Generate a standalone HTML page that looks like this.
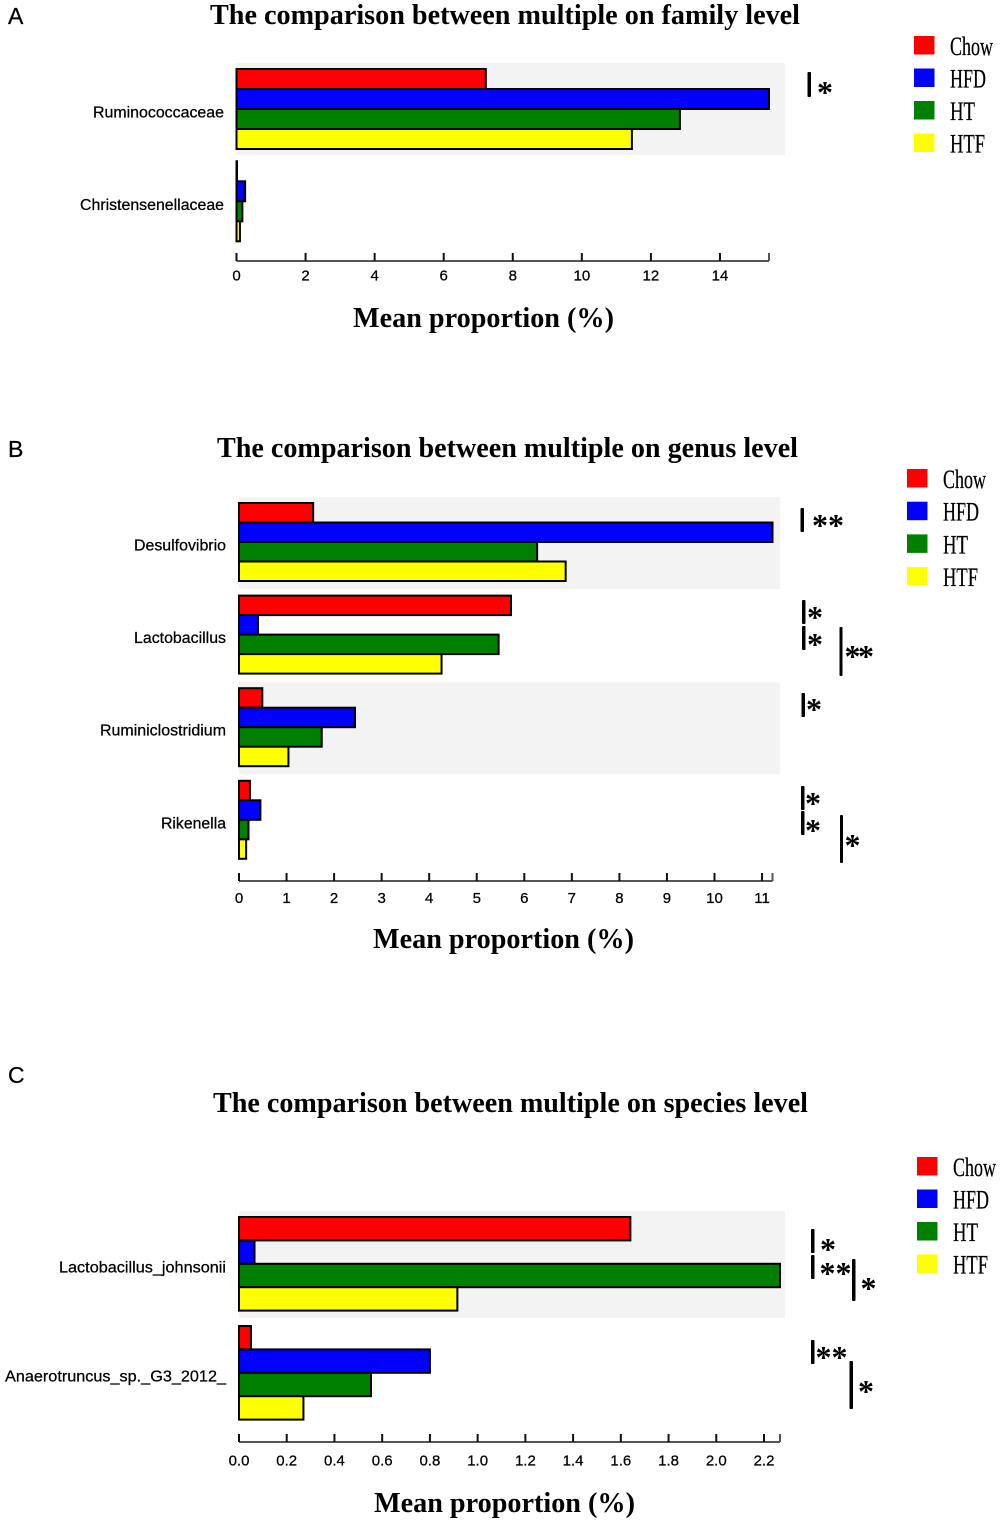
<!DOCTYPE html>
<html lang="en">
<head>
<meta charset="utf-8">
<title>Comparison between multiple groups</title>
<style>
html,body{margin:0;padding:0;background:#fff;}
svg{display:block;}
text{fill:#000;}
.serif{font-family:"Liberation Serif",serif;}
.sans{font-family:"Liberation Sans",sans-serif;}
.heavy{stroke:#000;stroke-width:.25px;}
.star{font-family:"Liberation Serif",serif;font-weight:bold;font-size:32px;text-anchor:middle;}
</style>
</head>
<body>
<svg id="figure" xmlns="http://www.w3.org/2000/svg" width="1000" height="1522" viewBox="0 0 1000 1522">
  <rect x="0" y="0" width="1000" height="1522" fill="#fff"/>
  <g id="charts"></g>

  <g>
    <rect x="807.5" y="72" width="3.5" height="25" rx="1" fill="#000"/>
    <text class="star" x="825" y="103">*</text>
  </g>

  <g>
    <rect x="800.5" y="508" width="3.5" height="24" rx="1" fill="#000"/>
    <text class="star" x="828" y="536">**</text>
    <rect x="802" y="600" width="3.5" height="24" rx="1" fill="#000"/>
    <text class="star" x="815" y="628">*</text>
    <rect x="802" y="626" width="3.5" height="24" rx="1" fill="#000"/>
    <text class="star" x="815" y="655">*</text>
    <rect x="839.5" y="627" width="3" height="49" rx="1" fill="#000"/>
    <text class="star" x="858" y="667" letter-spacing="-2.5">**</text>
    <rect x="801.5" y="693" width="3.5" height="24" rx="1" fill="#000"/>
    <text class="star" x="814" y="720">*</text>
    <rect x="801" y="786" width="3.5" height="24" rx="1" fill="#000"/>
    <text class="star" x="813" y="814">*</text>
    <rect x="801" y="811" width="3.5" height="24" rx="1" fill="#000"/>
    <text class="star" x="813" y="841">*</text>
    <rect x="840" y="815" width="3" height="48" rx="1" fill="#000"/>
    <text class="star" x="852.5" y="856">*</text>
  </g>

  <g>
    <rect x="811" y="1229" width="3.5" height="24" rx="1" fill="#000"/>
    <text class="star" x="828" y="1260">*</text>
    <rect x="811" y="1255" width="3.5" height="24" rx="1" fill="#000"/>
    <text class="star" x="835.5" y="1284">**</text>
    <rect x="852" y="1259" width="3.5" height="42" rx="1" fill="#000"/>
    <text class="star" x="868.5" y="1299">*</text>
    <rect x="811" y="1340" width="3.5" height="24" rx="1" fill="#000"/>
    <text class="star" x="831.5" y="1368">**</text>
    <rect x="849.5" y="1361" width="3.5" height="48" rx="1" fill="#000"/>
    <text class="star" x="866" y="1402">*</text>
  </g>
</svg>

<script>
// Group names and fills
var groupNames = ['Chow', 'HFD', 'HT', 'HTF'];
var groupColors = ['#ff0000', '#0000ff', '#008000', '#ffff00'];

// Panel A: family level
var familyCategories = ['Ruminococcaceae', 'Christensenellaceae'];
var familyChow = [7.22, 0.01];
var familyHFD = [15.42, 0.25];
var familyHT = [12.84, 0.17];
var familyHTF = [11.45, 0.1];
var familyTicks = [0, 2, 4, 6, 8, 10, 12, 14];
var familyTickLabels = ['0', '2', '4', '6', '8', '10', '12', '14'];

// Panel B: genus level
var genusCategories = ['Desulfovibrio', 'Lactobacillus', 'Ruminiclostridium', 'Rikenella'];
var genusChow = [1.56, 5.72, 0.49, 0.23];
var genusHFD = [11.22, 0.4, 2.44, 0.45];
var genusHT = [6.27, 5.46, 1.74, 0.2];
var genusHTF = [6.87, 4.26, 1.04, 0.15];
var genusTicks = [0, 1, 2, 3, 4, 5, 6, 7, 8, 9, 10, 11];
var genusTickLabels = ['0', '1', '2', '3', '4', '5', '6', '7', '8', '9', '10', '11'];

// Panel C: species level
var speciesCategories = ['Lactobacillus_johnsonii', 'Anaerotruncus_sp._G3_2012_'];
var speciesChow = [1.64, 0.05];
var speciesHFD = [0.065, 0.8];
var speciesHT = [2.267, 0.553];
var speciesHTF = [0.915, 0.27];
var speciesTicks = [0, 0.2, 0.4, 0.6, 0.8, 1, 1.2, 1.4, 1.6, 1.8, 2, 2.2];
var speciesTickLabels = ['0.0', '0.2', '0.4', '0.6', '0.8', '1.0', '1.2', '1.4', '1.6', '1.8', '2.0', '2.2'];

var SVG_NS = 'http://www.w3.org/2000/svg';

function make(tag, attrs, parent) {
  var el = document.createElementNS(SVG_NS, tag);
  for (var k in attrs) { el.setAttribute(k, attrs[k]); }
  parent.appendChild(el);
  return el;
}

function drawPanel(p) {
  var root = document.getElementById('charts');
  var g = make('g', {}, root);
  
  

  var series = p.series;
  var domainMax = 0;
  series.forEach(function (s) { s.forEach(function (v) { if (v > domainMax) { domainMax = v; } }); });

  function xScale(v) { return p.x0 + v / domainMax * p.plotWidth; }
  function yBar(catIndex, groupIndex) { return p.barTop + catIndex * p.step + groupIndex * p.barH; }

  // Panel letter
  var letter = make('text', { x: 8, y: p.letterY, 'font-size': 23, 'class': 'sans heavy' }, g);
  
  
  letter.textContent = p.id.toUpperCase();

  // Title
  var title = make('text', { x: p.titleX, y: p.titleY, 'font-size': 28, 'font-weight': 'bold', 'class': 'serif', textLength: p.titleW, lengthAdjust: 'spacingAndGlyphs' }, g);
  
  
  title.textContent = p.title;

  // Alternating bands
  p.categories.forEach(function (c, i) {
    if (i % 2 === 0) {
      var band = make('rect', { x: p.x0, y: yBar(i, 0) - 6, width: p.bandEnd - p.x0, height: p.bandH, fill: '#f3f3f3' }, g);
      
      
    }
  });

  // Bars and category labels
  p.categories.forEach(function (c, i) {
    series.forEach(function (s, j) {
      var bar = make('rect', {
        x: p.x0, y: yBar(i, j), width: Math.max(xScale(s[i]) - p.x0, 0.5), height: p.barH,
        fill: groupColors[j], stroke: '#000', 'stroke-width': 2
      }, g);
      
      
    });
    var label = make('text', {
      x: p.labelEnd - p.labelW[i], y: yBar(i, 2) + 8.5, 'font-size': 15.5, 'class': 'sans heavy',
      textLength: p.labelW[i], lengthAdjust: 'spacingAndGlyphs'
    }, g);
    
    
    label.textContent = c;
  });

  // X axis
  var axis = make('line', { x1: p.x0, x2: xScale(domainMax), y1: p.axisY, y2: p.axisY, stroke: '#555', 'stroke-width': 2 }, g);
  
  

  p.ticks.forEach(function (t, i) {
    var tick = make('line', { x1: xScale(t), x2: xScale(t), y1: p.axisY - 8, y2: p.axisY, stroke: '#111', 'stroke-width': 2 }, g);
    
    
    var tl = make('text', { x: xScale(t), y: p.tickLabelY, 'font-size': 15, 'text-anchor': 'middle', 'class': 'sans heavy' }, g);
    
    
    tl.textContent = p.tickLabels[i];
  });
  var endTick = make('line', { x1: xScale(domainMax), x2: xScale(domainMax), y1: p.axisY - 8, y2: p.axisY, stroke: '#555', 'stroke-width': 2 }, g);
  
  

  // X axis title
  var xt = make('text', { x: p.xTitleX, y: p.xTitleY, 'font-size': 28, 'font-weight': 'bold', 'class': 'serif', textLength: 261, lengthAdjust: 'spacingAndGlyphs' }, g);
  
  
  xt.textContent = 'Mean proportion (%)';

  // Legend
  var legend = make('g', {}, g);
  
  
  var textWidths = [43, 36, 25, 35];
  groupNames.forEach(function (name, i) {
    var y = p.legendY + i * p.legendStep;
    var sw = make('rect', { x: p.legendX, y: y, width: 20.5, height: 18.5, fill: groupColors[i] }, legend);
    
    
    var lt = make('text', { x: p.legendX + 36, y: y + 19, 'font-size': 26, 'class': 'serif heavy', textLength: textWidths[i], lengthAdjust: 'spacingAndGlyphs' }, legend);
    
    
    lt.textContent = name;
  });
}

drawPanel({
  id: 'a', title: 'The comparison between multiple on family level',
  categories: familyCategories, series: [familyChow, familyHFD, familyHT, familyHTF],
  ticks: familyTicks, tickLabels: familyTickLabels,
  x0: 236.5, plotWidth: 532.5, barTop: 69, step: 92.3, barH: 20, bandH: 92, bandEnd: 785,
  labelEnd: 224, labelW: [131, 144], axisY: 261, tickLabelY: 280.5,
  letterY: 24, titleX: 210, titleY: 24, titleW: 590, xTitleX: 353, xTitleY: 327,
  legendX: 914, legendY: 36, legendStep: 32.5
});

drawPanel({
  id: 'b', title: 'The comparison between multiple on genus level',
  categories: genusCategories, series: [genusChow, genusHFD, genusHT, genusHTF],
  ticks: genusTicks, tickLabels: genusTickLabels,
  x0: 239, plotWidth: 533.5, barTop: 503, step: 92.6, barH: 19.5, bandH: 92, bandEnd: 780,
  labelEnd: 226, labelW: [92, 92, 126, 65], axisY: 881, tickLabelY: 903,
  letterY: 457, titleX: 217, titleY: 457, titleW: 581, xTitleX: 373, xTitleY: 948,
  legendX: 907, legendY: 469, legendStep: 32.7
});

drawPanel({
  id: 'c', title: 'The comparison between multiple on species level',
  categories: speciesCategories, series: [speciesChow, speciesHFD, speciesHT, speciesHTF],
  ticks: speciesTicks, tickLabels: speciesTickLabels,
  x0: 239, plotWidth: 541, barTop: 1217, step: 109, barH: 23.4, bandH: 107, bandEnd: 785,
  labelEnd: 226, labelW: [167, 221], axisY: 1442, tickLabelY: 1465.5,
  letterY: 1083, titleX: 213, titleY: 1112, titleW: 595, xTitleX: 374, xTitleY: 1512,
  legendX: 917, legendY: 1157, legendStep: 32.5
});
</script>
</body>
</html>
